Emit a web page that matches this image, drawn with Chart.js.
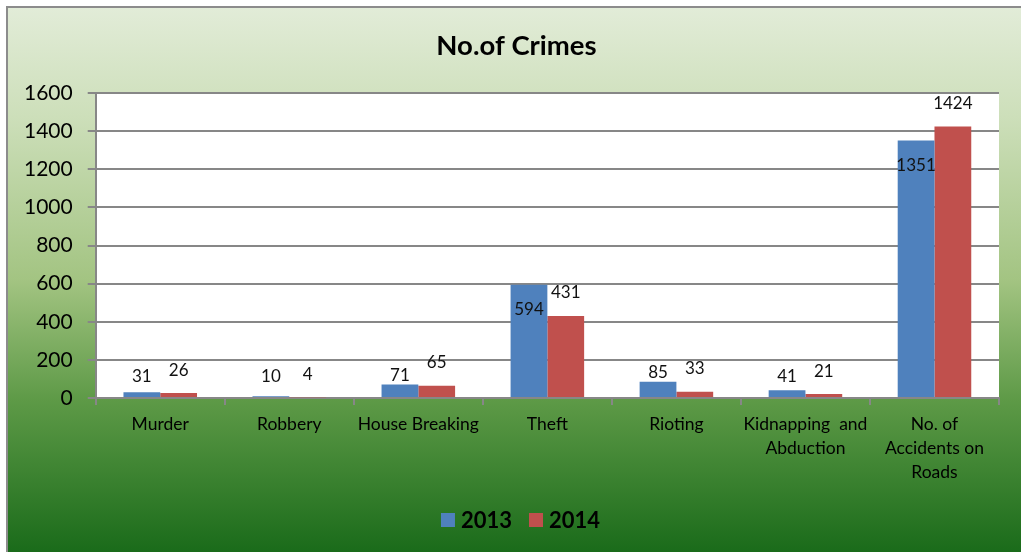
<!DOCTYPE html>
<html>
<head>
<meta charset="utf-8">
<script src="https://cdn.jsdelivr.net/npm/chart.js@4"></script>
<style>
  html, body { margin: 0; padding: 0; background: #fff; }
  #wrap { width: 1021px; height: 552px; }
</style>
</head>
<body>
<div id="wrap"><canvas id="crimeChart"></canvas></div>
<script>
'use strict';

// ---- data ----
const chartTitle = 'No.of Crimes';
const categories = [
  'Murder',
  'Robbery',
  'House Breaking',
  'Theft',
  'Rioting',
  ['Kidnapping  and', 'Abduction'],
  ['No. of', 'Accidents on', 'Roads'],
];
const crimes2013 = [31, 10, 71, 594, 85, 41, 1351];
const crimes2014 = [26, 4, 65, 431, 33, 21, 1424];
const yTicks = [0, 200, 400, 600, 800, 1000, 1200, 1400, 1600];

const FONT = 'Lato, "Open Sans", sans-serif';
const GRID = '#878787';

// green gradient frame + white plot area + title
const backdrop = {
  id: 'backdrop',
  beforeDraw(chart) {
    const { ctx, chartArea: a, width, height } = chart;
    ctx.save();
    ctx.fillStyle = '#fff';
    ctx.fillRect(0, 0, width, height);
    const g = ctx.createLinearGradient(0, 7, 0, height);
    g.addColorStop(0, '#e2ecd8');
    g.addColorStop(0.2, '#cddfba');
    g.addColorStop(0.5, '#a3c482');
    g.addColorStop(0.72, '#5e9a47');
    g.addColorStop(1, '#1a6b1a');
    ctx.fillStyle = g;
    ctx.fillRect(7, 7, width - 7, height - 7);
    ctx.strokeStyle = '#8c8c8c';
    ctx.lineWidth = 2;
    ctx.beginPath();
    ctx.moveTo(7, height);
    ctx.lineTo(7, 7);
    ctx.lineTo(width, 7);
    ctx.stroke();
    ctx.fillStyle = '#fff';
    ctx.fillRect(a.left, a.top, a.right - a.left, a.bottom - a.top);

    ctx.fillStyle = '#000';
    ctx.font = 'bold 27.5px ' + FONT;
    ctx.textAlign = 'center';
    ctx.textBaseline = 'middle';
    ctx.fillText(chartTitle, width / 2 + 6, 46);
    ctx.restore();
  },
};

// legend drawn by hand so the spacing follows the original
const bottomLegend = {
  id: 'bottomLegend',
  afterDraw(chart) {
    const { ctx, width } = chart;
    const sets = chart.data.datasets;
    ctx.save();
    ctx.font = 'bold 22px ' + FONT;
    ctx.textBaseline = 'middle';
    ctx.textAlign = 'left';
    const box = 14, gap = 6, between = 17;
    const widths = sets.map(ds => ctx.measureText(ds.label).width);
    const total = widths.reduce((s, w) => s + box + gap + w, 0) + between * (sets.length - 1);
    let x = width / 2 + 10 - total / 2;
    const y = 520;
    sets.forEach((ds, i) => {
      ctx.fillStyle = ds.backgroundColor;
      ctx.fillRect(x, y - box / 2, box, box);
      x += box + gap;
      ctx.fillStyle = '#000';
      ctx.fillText(ds.label, x, y + 1);
      x += widths[i] + between;
    });
    ctx.restore();
  },
};

// value labels
const valueLabels = {
  id: 'valueLabels',
  afterDatasetsDraw(chart) {
    const { ctx } = chart;
    const base = chart.scales.y.getPixelForValue(0);
    ctx.save();
    ctx.font = '17px ' + FONT;
    ctx.fillStyle = '#111';
    ctx.textAlign = 'center';
    ctx.textBaseline = 'middle';
    chart.data.datasets.forEach((ds, di) => {
      chart.getDatasetMeta(di).data.forEach((bar, i) => {
        const v = ds.data[i];
        let y;
        if (di === 0) {
          y = v > 500 ? bar.y + 25 : Math.min(base - 22, bar.y - 9);
        } else {
          y = bar.y - 23;
        }
        ctx.fillText(String(v), bar.x, y);
      });
    });
    ctx.restore();
  },
};

new Chart(document.getElementById('crimeChart'), {
  type: 'bar',
  data: {
    labels: categories,
    datasets: [
      { label: '2013', data: crimes2013, backgroundColor: '#4f81bd' },
      { label: '2014', data: crimes2014, backgroundColor: '#c0504d' },
    ],
  },
  options: {
    responsive: true,
    maintainAspectRatio: false,
    animation: false,
    devicePixelRatio: 1,
    categoryPercentage: 0.57,
    barPercentage: 1,
    layout: { padding: { left: 9, right: 22, top: 93, bottom: 61 } },
    plugins: {
      title: { display: false },
      legend: { display: false },
      tooltip: { enabled: false },
    },
    scales: {
      y: {
        min: 0,
        max: 1600,
        afterBuildTicks: axis => { axis.ticks = yTicks.map(v => ({ value: v })); },
        grid: { color: GRID, lineWidth: 2, tickLength: 8, tickColor: GRID },
        border: { color: GRID, width: 2 },
        ticks: { color: '#000', font: { size: 21, family: FONT }, padding: 15, callback: v => String(v) },
      },
      x: {
        grid: { drawOnChartArea: false, offset: true, tickLength: 7, tickColor: GRID, lineWidth: 2 },
        border: { color: GRID, width: 2 },
        ticks: { color: '#000', font: { size: 17.5, family: FONT, lineHeight: 1.37 }, padding: 7, maxRotation: 0, autoSkip: false },
      },
    },
  },
  plugins: [backdrop, valueLabels, bottomLegend],
});
</script>
</body>
</html>
